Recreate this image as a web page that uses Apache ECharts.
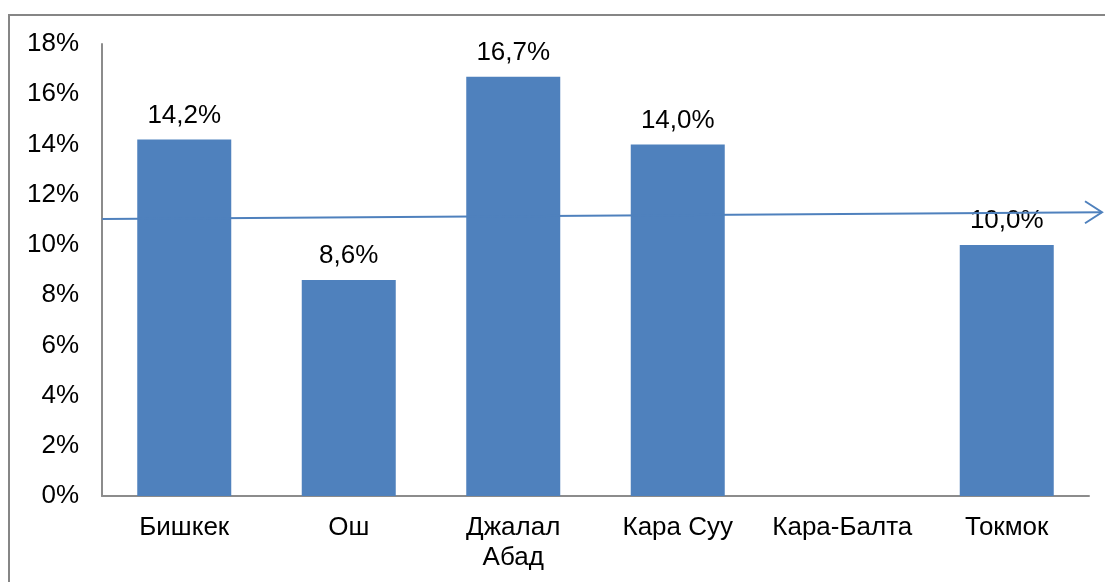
<!DOCTYPE html>
<html>
<head>
<meta charset="utf-8">
<title>chart</title>
<script src="https://cdn.jsdelivr.net/npm/echarts@6/dist/echarts.min.js"></script>
<style>
  html, body { margin: 0; padding: 0; background: #fff; }
  #main { width: 1105px; height: 582px; }
</style>
</head>
<body>
<div id="main"></div>
<script>
// data
var cities = ['Бишкек', 'Ош', 'Джалал\nАбад', 'Кара Суу', 'Кара-Балта', 'Токмок'];
var shares = [14.2, 8.6, 16.7, 14.0, null, 10.0];
var yTicks = [0, 2, 4, 6, 8, 10, 12, 14, 16, 18];
// trend arrow: value at left edge and at the arrow tip
var trendLine = [11.03, 11.3];

var font = 'Liberation Sans, Arial, sans-serif';
var chart = echarts.init(document.getElementById('main'));

chart.setOption({
  animation: false,
  grid: { left: 102, top: 44, right: 16, bottom: 86 },
  xAxis: {
    type: 'category',
    data: cities,
    axisLine: { lineStyle: { color: '#8c8c8c', width: 2 } },
    axisTick: { show: false },
    axisLabel: { color: '#000', fontSize: 26, fontFamily: font, margin: 17, lineHeight: 30, interval: 0 }
  },
  yAxis: {
    type: 'value',
    min: yTicks[0],
    max: yTicks[yTicks.length - 1],
    interval: 2,
    axisLine: { show: true, lineStyle: { color: '#8c8c8c', width: 2 } },
    axisTick: { show: false },
    splitLine: { show: false },
    axisLabel: { color: '#000', fontSize: 26, fontFamily: font, margin: 23, formatter: '{value}%' }
  },
  series: [{
    type: 'bar',
    data: shares,
    barWidth: 94,
    itemStyle: { color: '#4f81bd' },
    label: {
      show: true,
      position: 'top',
      distance: 11,
      color: '#000',
      fontSize: 26,
      fontFamily: font,
      formatter: function (p) { return p.value.toFixed(1).replace('.', ',') + '%'; }
    }
  }]
});

// frame and trend arrow
var x0 = chart.convertToPixel({ xAxisIndex: 0 }, 0) - 82;
var y0 = chart.convertToPixel({ yAxisIndex: 0 }, trendLine[0]);
var x1 = 1102;
var y1 = chart.convertToPixel({ yAxisIndex: 0 }, trendLine[1]);

chart.setOption({
  graphic: [
    {
      type: 'rect', silent: true,
      shape: { x: 9, y: 15, width: 1200, height: 700 },
      style: { fill: 'none', stroke: '#868686', lineWidth: 2 }
    },
    {
      type: 'polyline', silent: true, z: 10,
      shape: { points: [[x0, y0], [x1, y1]] },
      style: { stroke: '#4f81bd', lineWidth: 2, fill: 'none' }
    },
    {
      type: 'polyline', silent: true, z: 10,
      shape: { points: [[x1 - 17, y1 - 11], [x1, y1], [x1 - 17, y1 + 11]] },
      style: { stroke: '#4f81bd', lineWidth: 2, fill: 'none' }
    }
  ]
});
</script>
</body>
</html>
